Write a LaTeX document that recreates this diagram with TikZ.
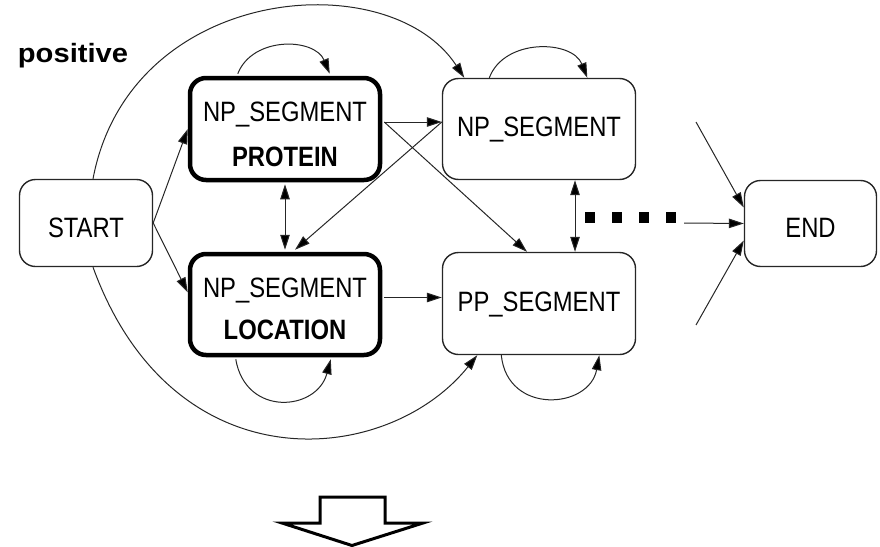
\documentclass[tikz,border=0pt]{standalone}
\usepackage{fontspec}
\setmainfont{Liberation Sans}[FakeStretch=0.85]
\newfontfamily\titlefont{Liberation Sans}[FakeStretch=1.1]
\usetikzlibrary{arrows.meta,calc}

\begin{document}
\begin{tikzpicture}[x=1pt,y=-1pt,
  statebox/.style={draw=black!85, line width=1.4pt, rounded corners=16pt,
    inner sep=0pt, fill=white},
  keybox/.style={statebox, draw=black, line width=4.5pt},
  lbl/.style={anchor=base, inner sep=0pt, font=\fontsize{28}{33}\selectfont},
  conn/.style={draw=black!85, line width=1pt, -{Triangle[length=15pt,width=9.5pt,fill=black]}},
  biconn/.style={draw=black!85, line width=1pt,
    {Triangle[length=15pt,width=9.5pt,fill=black]}-{Triangle[length=15pt,width=9.5pt,fill=black]}}
]
\useasboundingbox (0,0) rectangle (880,546);

% title
\node[anchor=base, inner sep=0pt, font=\titlefont\bfseries\fontsize{26.5}{30}\selectfont]
  (title) at (73,62) {positive};

% state boxes
\node[statebox, minimum width=133pt, minimum height=87pt] (start) at (86,223) {};
\node[keybox, minimum width=190pt, minimum height=102pt] (p1) at (285,129) {};
\node[keybox, minimum width=190pt, minimum height=101pt] (l1) at (285,304.5) {};
\node[statebox, minimum width=193pt, minimum height=101pt] (np2) at (539,129) {};
\node[statebox, minimum width=193pt, minimum height=102pt] (pp) at (539,303.5) {};
\node[statebox, minimum width=132pt, minimum height=86pt] (end) at (810.5,223.5) {};

% box texts
\node[lbl] (startT) at (86,237) {START};
\node[lbl] (p1a) at (285,121) {NP\_SEGMENT};
\node[lbl] (p1b) at (285,166) {\bfseries PROTEIN};
\node[lbl] (l1a) at (285,297) {NP\_SEGMENT};
\node[lbl] (l1b) at (285,339) {\bfseries LOCATION};
\node[lbl] (np2T) at (539,136) {NP\_SEGMENT};
\node[lbl] (ppT) at (539,311.5) {PP\_SEGMENT};
\node[lbl] (endT) at (810.5,237) {END};

% free ends near END
\coordinate (e0) at (684,223);
\coordinate (e1) at (696,122);
\coordinate (e2) at (696,325);
\coordinate (d0) at (585,217.5);
\coordinate (d1) at (676,217.5);

% transitions out of START
\draw[conn] (start.east) -- (p1.west);
\draw[conn] (start.east) -- ($(l1.west)+(0,-12)$);
\draw[conn] ($(start.north)+(7,0)$) .. controls +(37,-195) and +(-75,-115) ..
  ($(np2.north west)+(22.5,0)$);
\draw[conn] ($(start.south)+(7,0)$) .. controls +(80,220) and +(-90,112) ..
  ($(pp.south west)+(35.5,0)$);

% transitions between segments
\draw[conn] ($(p1.east)+(2,-7)$) -- ($(np2.west)+(0,-7)$);
\draw[conn] ($(p1.east)+(2,-7)$) -- ($(pp.north)+(-12,0)$);
\draw[conn] ($(np2.west)+(0,-7)$) -- ($(l1.north)+(10,-2)$);
\draw[conn] ($(l1.east)+(2,-7)$) -- ($(pp.west)+(0,-6)$);
\draw[biconn] ($(p1.south)+(0,2)$) -- ($(l1.north)+(0,-2)$);
\draw[biconn] ($(np2.south)+(36,0)$) -- ($(pp.north)+(36,0)$);

% self loops
\draw[conn] ($(p1.north west)+(50,-2)$) .. controls +(15,-38) and +(-15,-36) ..
  ($(p1.north west)+(142,-2)$);
\draw[conn] ($(np2.north west)+(47.5,0)$) .. controls +(15,-40) and +(-15,-38) ..
  ($(np2.north west)+(145.5,0)$);
\draw[conn] ($(l1.south west)+(48,2)$) .. controls +(10,58) and +(-14,52) ..
  ($(l1.south west)+(143,2)$);
\draw[conn] ($(pp.south west)+(59.5,0)$) .. controls +(6,60) and +(-10,54) ..
  ($(pp.south west)+(157.5,0)$);

% transitions into END
\draw[line width=11pt, dash pattern=on 9.5pt off 17.5pt] (d0) -- (d1);
\draw[conn] (e0) -- (end.west);
\draw[conn] (e1) -- ($(end.west)+(0,-16)$);
\draw[conn] (e2) -- ($(end.west)+(0,17)$);

% hollow block arrow
\draw[line width=3pt, line join=miter, fill=white]
  (320,497) -- (385,497) -- (385,523) -- (423,523) -- (352,545.5)
  -- (282,523) -- (320,523) -- cycle;
\end{tikzpicture}
\end{document}
